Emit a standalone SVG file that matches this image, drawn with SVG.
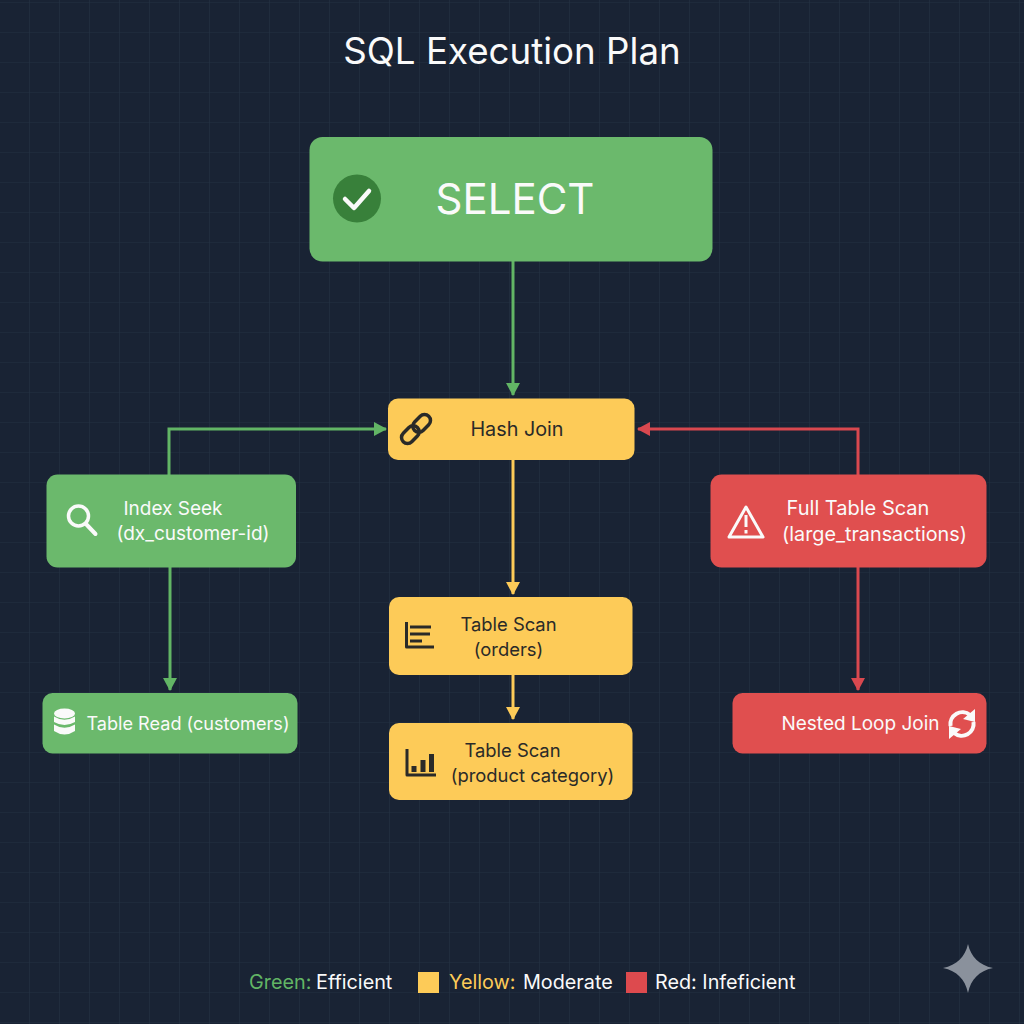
<svg xmlns="http://www.w3.org/2000/svg" width="1024" height="1024" viewBox="0 0 1024 1024" font-size="19">
<style>
text{font-family:Inter,"Liberation Sans",sans-serif;}
.w{fill:#fafafa}.k{fill:#2a2a28}
.t{text-anchor:middle}
.g{fill:#6bb96c}.y{fill:#fdcb58}.r{fill:#e04f4f}
.cg,.cy,.cr{fill:none;stroke-width:3}
.cg{stroke:#62b565}.cy{stroke:#fdcb58}.cr{stroke:#d9484f}
.iw{fill:none;stroke:#fafafa;stroke-width:3.5;stroke-linecap:round;stroke-linejoin:round}
.ik{fill:none;stroke:#2a2a28;stroke-width:3;stroke-linecap:butt;stroke-linejoin:round}
.grid{stroke:#2b3b4c;stroke-width:1.2;opacity:.6;fill:none}
</style>
<defs>
<marker id="ag" markerWidth="13" markerHeight="14" refX="12" refY="7" orient="auto" markerUnits="userSpaceOnUse"><path d="M0 0L13 7L0 14z" fill="#62b565"/></marker>
<marker id="ay" markerWidth="13" markerHeight="14" refX="12" refY="7" orient="auto" markerUnits="userSpaceOnUse"><path d="M0 0L13 7L0 14z" fill="#fdcb58"/></marker>
<marker id="ar" markerWidth="13" markerHeight="14" refX="12" refY="7" orient="auto" markerUnits="userSpaceOnUse"><path d="M0 0L13 7L0 14z" fill="#d9484f"/></marker>
<pattern id="gp" width="30" height="30" patternUnits="userSpaceOnUse" y="3"><path class="grid" d="M30 0V30M0 30H30"/></pattern>
</defs>
<rect width="1024" height="1024" fill="#192334"/>
<rect width="1024" height="1024" fill="url(#gp)"/>
<text x="512" y="64" font-size="36.700" text-anchor="middle" class="w" id="title">SQL Execution Plan</text>
<g id="connectors">
<path class="cg" marker-end="url(#ag)" d="M513 261V395"/>
<path class="cg" marker-end="url(#ag)" d="M169 475V429H386"/>
<path class="cg" marker-end="url(#ag)" d="M170 567V690"/>
<path class="cy" marker-end="url(#ay)" d="M513 459V594"/>
<path class="cy" marker-end="url(#ay)" d="M513 674V719"/>
<path class="cr" marker-end="url(#ar)" d="M858 475V429H638"/>
<path class="cr" marker-end="url(#ar)" d="M858 567V690"/>
</g>
<g id="node-select">
<rect class="g" x="309.500" y="137" width="403" height="124.500" rx="13"/>
<circle cx="357" cy="198.500" r="24" fill="#38803a"/>
<path d="M345 199L354 208L369 191" fill="none" stroke="#fafafa" stroke-width="4.500" stroke-linecap="round" stroke-linejoin="round"/>
<text x="515" y="214" font-size="42" text-anchor="middle" class="w">SELECT</text>
</g>
<g id="node-hash-join">
<rect class="y" x="388" y="398.500" width="246.500" height="61.500" rx="10"/>
<g class="ik" style="stroke-width:3.500" transform="rotate(-45 416 429)"><rect x="398" y="423" width="20" height="12" rx="6"/><rect x="414" y="423" width="20" height="12" rx="6"/></g>
<text class="t k" x="517" y="435.500" font-size="19.800">Hash Join</text>
</g>
<g id="node-index-seek">
<rect class="g" x="46.500" y="474.500" width="249.500" height="93" rx="11"/>
<circle class="iw" cx="78.500" cy="516" r="10"/><path class="iw" style="stroke-width:4" d="M86 524L95.500 534"/>
<text class="t w" x="173" y="515">Index Seek</text>
<text class="t w" x="193" y="539.500">(dx_customer-id)</text>
</g>
<g id="node-full-scan">
<rect class="r" x="710.500" y="474.500" width="276" height="93" rx="11"/>
<path class="iw" style="stroke-width:3" d="M746 507L763 537H729z"/><path d="M746 515V527M746 530V533.500" fill="none" stroke="#fafafa" stroke-width="3"/>
<text class="t w" x="858" y="515" font-size="20">Full Table Scan</text>
<text class="t w" x="874.500" y="541" font-size="19.800">(large_transactions)</text>
</g>
<g id="node-table-read">
<rect class="g" x="42.500" y="693" width="255" height="60.500" rx="10"/>
<g fill="#fafafa"><ellipse cx="64.500" cy="713.500" rx="10.500" ry="5"/><path d="M54 716.500Q64.500 723 75 716.500V722Q64.500 728 54 722z"/><path d="M54 724.500Q64.500 731 75 724.500V731Q64.500 738 54 731z"/></g>
<text class="t w" x="188" y="730" font-size="18.100">Table Read (customers)</text>
</g>
<g id="node-nested-loop">
<rect class="r" x="732.500" y="693" width="254" height="60.500" rx="10"/>
<path class="iw" style="stroke-width:4;stroke-linecap:butt" d="M950.500 726A12 12 0 0 1 970 715M973.500 722A12 12 0 0 1 954 733"/>
<path fill="#fafafa" d="M975 709V722L963 719zM949 739V726L961 729z"/>
<text class="t w" x="860.500" y="730">Nested Loop Join</text>
</g>
<g id="node-table-scan-orders">
<rect class="y" x="389" y="597" width="243.500" height="78" rx="10"/>
<path class="ik" d="M406.500 622V647H434"/>
<path d="M410 627H431M410 634H430M410 641H422" fill="none" stroke="#2a2a28" stroke-width="3"/>
<text class="t k" x="508.500" y="630.500" font-size="18.400">Table Scan</text>
<text class="t k" x="508.500" y="655.500" font-size="18.400">(orders)</text>
</g>
<g id="node-table-scan-product">
<rect class="y" x="389" y="723" width="243.500" height="77" rx="10"/>
<path class="ik" d="M407 749V775H436"/>
<path d="M411.500 766h5v6h-5zM420.500 760h5v12h-5zM429 754h5v18h-5z" fill="#2a2a28"/>
<text class="t k" x="512.500" y="756.500" font-size="18.400">Table Scan</text>
<text class="t k" x="532.500" y="781.500" font-size="18.400">(product category)</text>
</g>
<g id="legend" font-size="19.800">
<text x="249" y="989" fill="#62b565">Green:</text>
<text x="316" y="989" class="w">Efficient</text>
<rect x="418" y="972" width="21" height="21" fill="#fdcb58"/>
<text x="449" y="989" fill="#fdcb58">Yellow:</text>
<text x="523" y="989" class="w">Moderate</text>
<rect x="626" y="972" width="21" height="21" fill="#dd4a4e"/>
<text x="655" y="989" class="w">Red: Infeficient</text>
</g>
<path id="sparkle" d="M968 944C971 957 979 965 993 968C979 971 971 979 968 993C965 979 957 971 943 968C957 965 965 957 968 944z" fill="#8a919c"/>
</svg>
